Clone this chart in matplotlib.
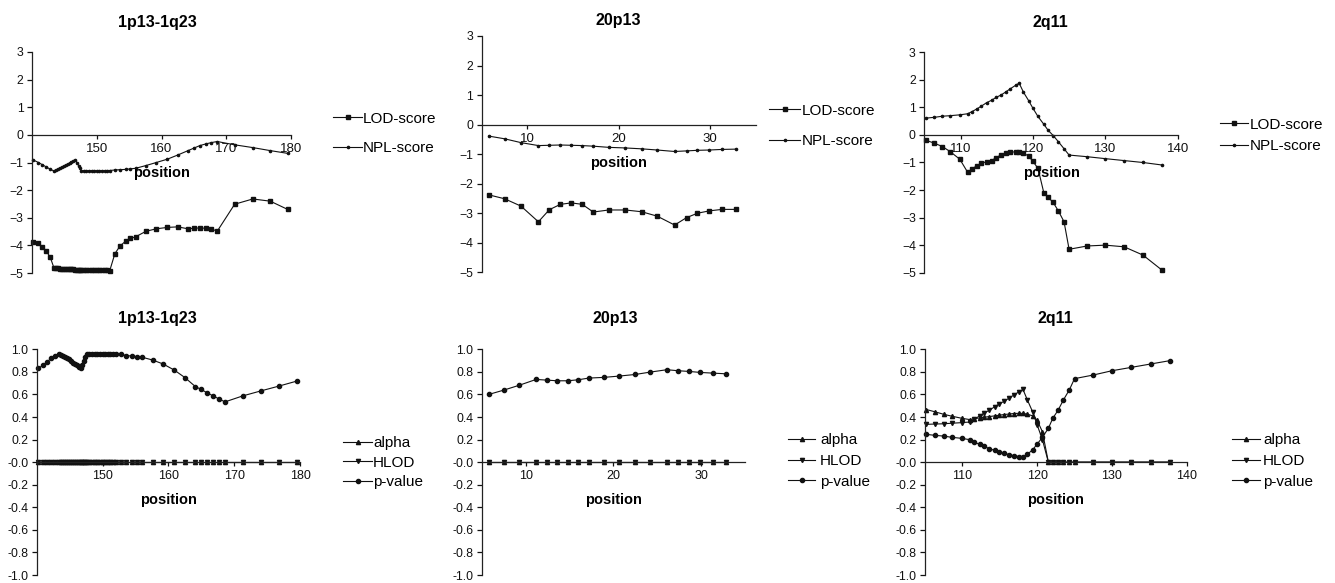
import matplotlib
matplotlib.use("Agg")
import matplotlib.pyplot as plt
from matplotlib.transforms import blended_transform_factory

plt.rcParams['font.family'] = ['Liberation Sans', 'DejaVu Sans']

W, H = 1335, 583

# ---------------- data ----------------
titles = ["1p13-1q23", "20p13", "2q11"]

# 1p13-1q23 marker positions (cM)
pos_1 = [140.2, 141.0, 141.6, 142.2, 142.8, 143.4,
         143.7, 144.0, 144.3, 144.6, 144.9, 145.2, 145.5, 145.8, 146.1, 146.4, 146.7,
         146.95, 147.2, 147.4, 147.6,
         148.0, 148.4, 148.8, 149.2, 149.6, 150.0, 150.4, 150.8, 151.2, 151.6, 152.0,
         152.8, 153.6, 154.5, 155.2, 156.0, 157.6, 159.2, 160.9, 162.5, 164.1, 165.0,
         165.9, 166.8, 167.7, 168.6, 171.3, 174.1, 176.8, 179.5]
lod_1 = [-3.87, -3.93, -4.06, -4.21, -4.42, -4.82,
         -4.83, -4.83, -4.84, -4.84, -4.85, -4.85, -4.86, -4.86, -4.87, -4.87, -4.88,
         -4.88, -4.89, -4.89, -4.90,
         -4.90, -4.90, -4.90, -4.90, -4.90, -4.90, -4.90, -4.90, -4.90, -4.90, -4.92,
         -4.30, -4.02, -3.84, -3.75, -3.69, -3.49, -3.40, -3.35, -3.33, -3.40, -3.38,
         -3.37, -3.38, -3.40, -3.49, -2.51, -2.32, -2.40, -2.70]
npl_1 = [-0.91, -1.00, -1.08, -1.16, -1.24, -1.31,
         -1.27, -1.24, -1.20, -1.17, -1.13, -1.09, -1.06, -1.02, -0.98, -0.95, -0.91,
         -1.01, -1.11, -1.20, -1.30,
         -1.30, -1.30, -1.30, -1.30, -1.30, -1.30, -1.30, -1.30, -1.30, -1.29, -1.29,
         -1.27, -1.26, -1.25, -1.23, -1.21, -1.11, -1.00, -0.88, -0.73, -0.57, -0.48,
         -0.39, -0.33, -0.28, -0.24, -0.36, -0.46, -0.57, -0.67]
alpha_1 = [0.0] * 51
hlod_1 = [0.0] * 51
pval_1 = [0.83, 0.86, 0.89, 0.92, 0.94, 0.96,
          0.95, 0.94, 0.93, 0.92, 0.91, 0.90, 0.88, 0.87, 0.86, 0.845, 0.83,
          0.865, 0.90, 0.93, 0.955,
          0.955, 0.955, 0.955, 0.955, 0.955, 0.955, 0.955, 0.955, 0.955, 0.955, 0.955,
          0.955, 0.945, 0.94, 0.935, 0.93, 0.905, 0.87, 0.816, 0.75, 0.67, 0.644,
          0.614, 0.587, 0.56, 0.534, 0.587, 0.632, 0.674, 0.718]

# 20p13
pos_20 = [5.8, 7.5, 9.3, 11.2, 12.4, 13.6, 14.8, 16.0, 17.2, 18.9, 20.7, 22.5,
          24.2, 26.1, 27.4, 28.6, 29.9, 31.3, 32.8]
lod_20 = [-2.38, -2.51, -2.76, -3.29, -2.88, -2.70, -2.65, -2.70, -2.96, -2.89,
          -2.89, -2.95, -3.10, -3.40, -3.15, -3.00, -2.92, -2.87, -2.87]
npl_20 = [-0.39, -0.48, -0.61, -0.71, -0.70, -0.69, -0.70, -0.71, -0.73, -0.77,
          -0.79, -0.82, -0.86, -0.91, -0.89, -0.87, -0.86, -0.84, -0.83]
alpha_20 = [0.0] * 19
hlod_20 = [0.0] * 19
pval_20 = [0.60, 0.638, 0.682, 0.733, 0.727, 0.721, 0.721, 0.730, 0.745, 0.751,
           0.763, 0.777, 0.798, 0.819, 0.81, 0.804, 0.795, 0.789, 0.783]

# 2q11
pos_2 = [105.2, 106.4, 107.5, 108.6, 109.9, 111.0, 111.6, 112.3, 112.9, 113.6,
         114.3, 114.9, 115.6, 116.3, 116.9, 117.6, 118.1, 118.7, 119.4, 120.0,
         120.7, 121.5, 122.1, 122.8, 123.5, 124.3, 125.0, 127.5, 130.0, 132.6,
         135.2, 137.8]
lod_2 = [-0.19, -0.30, -0.42, -0.61, -0.88, -1.36, -1.23, -1.11, -1.03, -0.97,
         -0.94, -0.82, -0.73, -0.67, -0.63, -0.61, -0.61, -0.67, -0.76, -0.96,
         -1.21, -2.09, -2.26, -2.45, -2.75, -3.15, -4.15, -4.03, -4.00, -4.06,
         -4.36, -4.90]
npl_2 = [0.61, 0.64, 0.68, 0.70, 0.73, 0.77, 0.85, 0.95, 1.05, 1.17,
         1.26, 1.36, 1.45, 1.57, 1.68, 1.80, 1.88, 1.55, 1.25, 0.97,
         0.67, 0.39, 0.17, -0.02, -0.24, -0.50, -0.73, -0.79, -0.86, -0.93,
         -1.00, -1.09]
alpha_2 = [0.466, 0.445, 0.424, 0.407, 0.389, 0.377, 0.385, 0.392, 0.398, 0.404,
           0.41, 0.416, 0.422, 0.427, 0.431, 0.433, 0.432, 0.425, 0.41, 0.37,
           0.27, 0.0, 0.0, 0.0, 0.0, 0.0, 0.0, 0.0, 0.0, 0.0,
           0.0, 0.0]
hlod_2 = [0.335, 0.338, 0.34, 0.345, 0.35, 0.356, 0.38, 0.41, 0.435, 0.46,
          0.49, 0.515, 0.54, 0.57, 0.595, 0.625, 0.645, 0.55, 0.445, 0.33,
          0.20, 0.0, 0.0, 0.0, 0.0, 0.0, 0.0, 0.0, 0.0, 0.0,
          0.0, 0.0]
pval_2 = [0.246, 0.237, 0.231, 0.220, 0.211, 0.199, 0.178, 0.157, 0.14, 0.12,
          0.104, 0.09, 0.078, 0.066, 0.057, 0.05, 0.045, 0.07, 0.11, 0.16,
          0.22, 0.30, 0.39, 0.46, 0.55, 0.64, 0.74, 0.772, 0.81, 0.84,
          0.87, 0.90]

top_yticks = [-5, -4, -3, -2, -1, 0, 1, 2, 3]
bot_yticks = [-1.0, -0.8, -0.6, -0.4, -0.2, 0.0, 0.2, 0.4, 0.6, 0.8, 1.0]
bot_yticklabels = ["-1.0", "-0.8", "-0.6", "-0.4", "-0.2", "-0.0", "0.2", "0.4", "0.6", "0.8", "1.0"]

xlims = [(140, 180), (5, 35), (105, 140)]
xticks = [[150, 160, 170, 180], [10, 20, 30], [110, 120, 130, 140]]

# ---------------- layout (pixels) ----------------
top_rects = [(32, 52, 291, 273), (481.7, 36, 756, 272.3), (924.3, 52.3, 1177.7, 272.7)]
bot_rects = [(36.7, 349.3, 300, 575), (481.7, 349.3, 745, 575), (925, 349.3, 1186.7, 575)]
top_title_pos = [(157, 22), (618, 20), (1050, 22)]
bot_title_pos = [(157, 319), (615, 319), (1055, 319)]
# legend: (left px, first row y px, row spacing px, handle length px, text start px)
top_leg = [(333, 118, 31, 29, 363), (769, 110, 32, 31, 802), (1220, 124, 23, 28, 1250)]
bot_leg = [(343, 441.7, 21, 29, 373), (788, 439, 22, 27, 820), (1232, 439, 22, 28, 1263)]

fig = plt.figure(figsize=(W / 100, H / 100), dpi=100)


def rect(r):
    x0, y0, x1, y1 = r
    return [x0 / W, 1 - y1 / H, (x1 - x0) / W, (y1 - y0) / H]


def style(ax, xl, xt, ylim, yt, ytl, xfs):
    ax.set_xlim(*xl)
    ax.set_ylim(*ylim)
    for s in ("top", "right"):
        ax.spines[s].set_visible(False)
    ax.spines["bottom"].set_position(("data", 0))
    ax.spines["left"].set_position(("data", xl[0]))
    for s in ("bottom", "left"):
        ax.spines[s].set_linewidth(0.9)
        ax.spines[s].set_color("#222222")
    ax.set_xticks(xt)
    ax.set_yticks(yt)
    if ytl is not None:
        ax.set_yticklabels(ytl)
    ax.tick_params(axis="y", direction="out", length=3.6, width=0.9, pad=2.5,
                   labelsize=8.8, colors="#111111")
    ax.tick_params(axis="x", direction="out", length=3, width=0.9, pad=3,
                   labelsize=xfs, colors="#111111")
    ax.patch.set_alpha(0)
    tr = blended_transform_factory(ax.transAxes, ax.transData)
    ax.annotate("position", xy=(0.5, 0), xycoords=tr, xytext=(0, -27.4),
                textcoords="offset points", ha="center", va="center",
                fontsize=10.5, fontweight="bold")


def make_legend(ax, handles, labels, spec, fs):
    left, y0, sp, hl, tx = spec
    n = len(labels)
    fs_px = fs / 0.72
    mid = y0 + sp * (n - 1) / 2
    leg = ax.legend(handles, labels, loc="center left",
                    bbox_to_anchor=(left / W, 1 - mid / H),
                    bbox_transform=fig.transFigure, frameon=False,
                    fontsize=fs, borderpad=0, borderaxespad=0,
                    handlelength=hl * 0.72 / fs,
                    handletextpad=(tx - left - hl) * 0.72 / fs,
                    labelspacing=(sp - fs_px * 1.0) / fs_px)
    return leg


top_data = [(pos_1, lod_1, npl_1), (pos_20, lod_20, npl_20), (pos_2, lod_2, npl_2)]
bot_data = [(pos_1, alpha_1, hlod_1, pval_1), (pos_20, alpha_20, hlod_20, pval_20),
            (pos_2, alpha_2, hlod_2, pval_2)]

lc = "#111111"
for i in range(3):
    ax = fig.add_axes(rect(top_rects[i]))
    p, lod, npl = top_data[i]
    h1, = ax.plot(p, lod, color=lc, lw=0.8, marker="s", ms=3.3, mec=lc, mfc=lc,
                  clip_on=False)
    h2, = ax.plot(p, npl, color=lc, lw=0.8, marker="o", ms=1.6, mec=lc, mfc=lc,
                  clip_on=False)
    style(ax, xlims[i], xticks[i], (-5, 3), top_yticks, None, 9.5)
    make_legend(ax, [h1, h2], ["LOD-score", "NPL-score"], top_leg[i], 11)
    fig.text(top_title_pos[i][0] / W, 1 - top_title_pos[i][1] / H, titles[i],
             ha="center", va="center", fontsize=11.5, fontweight="bold")

for i in range(3):
    ax = fig.add_axes(rect(bot_rects[i]))
    p, al, hl, pv = bot_data[i]
    h1, = ax.plot(p, al, color=lc, lw=0.8, marker="^", ms=3.0, mec=lc, mfc=lc,
                  clip_on=False)
    h2, = ax.plot(p, hl, color=lc, lw=0.8, marker="v", ms=3.0, mec=lc, mfc=lc,
                  clip_on=False)
    h3, = ax.plot(p, pv, color=lc, lw=0.8, marker="o", ms=3.0, mec=lc, mfc=lc,
                  clip_on=False)
    style(ax, xlims[i], xticks[i], (-1.0, 1.0), bot_yticks, bot_yticklabels, 9.0)
    make_legend(ax, [h1, h2, h3], ["alpha", "HLOD", "p-value"], bot_leg[i], 11)
    fig.text(bot_title_pos[i][0] / W, 1 - bot_title_pos[i][1] / H, titles[i],
             ha="center", va="center", fontsize=11.5, fontweight="bold")

fig.savefig("out.png", dpi=100)
